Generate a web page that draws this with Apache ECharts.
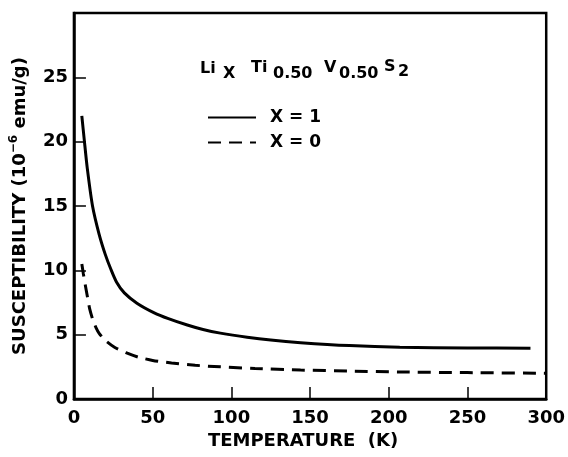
<!DOCTYPE html>
<html>
<head>
<meta charset="utf-8">
<script src="https://cdn.jsdelivr.net/npm/echarts@6/dist/echarts.min.js"></script>
<style>
html,body{margin:0;padding:0;background:#fff;}
#chart{width:568px;height:457px;}
</style>
</head>
<body>
<div id="chart"></div>
<script>
// Temperatures (K) and susceptibilities (10^-6 emu/g)
var tempX1 = [5, 6.5, 8.5, 11.8, 16, 20, 23.4, 27, 32, 40, 51, 60, 72, 82, 93, 110, 125, 144, 175, 207, 250, 290];
var chiX1  = [22, 20.2, 17.9, 15, 12.8, 11.2, 10.1, 9.1, 8.25, 7.45, 6.7, 6.25, 5.75, 5.4, 5.12, 4.8, 4.58, 4.38, 4.15, 4.02, 3.97, 3.95];
var tempX0 = [5, 6, 7, 8.5, 10, 12, 14, 16, 20, 26, 33, 41, 50, 62, 77, 93, 115, 144, 175, 207, 250, 300];
var chiX0  = [10.5, 9.72, 9.0, 7.98, 7.0, 6.15, 5.55, 5.1, 4.55, 4.0, 3.6, 3.25, 3.0, 2.8, 2.62, 2.5, 2.37, 2.25, 2.17, 2.1, 2.05, 2.0];
var seriesNames = ['X = 1', 'X = 0'];
var xTicks = [0, 50, 100, 150, 200, 250, 300];
var yTicks = [0, 5, 10, 15, 20, 25];
var xTitle = 'TEMPERATURE  (K)';
var yTitle = 'SUSCEPTIBILITY (10{sup|\u22126} emu/g)';

function pairs(xs, ys) { return xs.map(function (x, i) { return [x, ys[i]]; }); }

var FONT = 'DejaVu Sans';
var chart = echarts.init(document.getElementById('chart'));

var titleParts = [
  ['Li', 200, 69], ['X', 223, 73.5], ['Ti', 251, 68], ['0.50', 273, 74],
  ['V', 324, 68], ['0.50', 339, 74], ['S', 384, 67], ['2', 398, 72]
];

chart.setOption({
  backgroundColor: '#fff',
  animation: false,
  grid: { left: 72, right: 20, top: 13, bottom: 58, show: true, borderColor: '#000', borderWidth: 2.5 },
  xAxis: {
    type: 'value', min: 0, max: 300, interval: 50,
    name: xTitle, nameLocation: 'middle', nameGap: 31,
    nameTextStyle: { fontFamily: FONT, fontWeight: 'bold', fontSize: 18, color: '#000', padding: [0, 14, 0, 0] },
    axisLine: { show: true, lineStyle: { color: '#000', width: 2.5 } },
    axisTick: { show: true, inside: true, length: 12, lineStyle: { color: '#000', width: 1.5 } },
    axisLabel: { fontFamily: FONT, fontWeight: 'bold', fontSize: 18, color: '#000', margin: 10,
      formatter: function (v) { return xTicks.indexOf(v) >= 0 ? String(v) : ''; } },
    splitLine: { show: false }
  },
  yAxis: {
    type: 'value', min: 0, max: 30, interval: 5,
    name: yTitle, nameLocation: 'middle', nameGap: 29,
    nameTextStyle: { fontFamily: FONT, fontWeight: 'bold', fontSize: 18, color: '#000', lineHeight: 24,
      rich: { sup: { fontFamily: FONT, fontWeight: 'bold', fontSize: 12, lineHeight: 12, verticalAlign: 'top', color: '#000' } } },
    axisLine: { show: true, lineStyle: { color: '#000', width: 2.5 } },
    axisTick: { show: true, inside: true, length: 12, lineStyle: { color: '#000', width: 1.5 } },
    axisLabel: { fontFamily: FONT, fontWeight: 'bold', fontSize: 18, color: '#000', margin: 6,
      formatter: function (v) { return yTicks.indexOf(v) >= 0 ? String(v) : ''; } },
    splitLine: { show: false }
  },
  legend: {
    orient: 'vertical', left: 202, top: 104, itemWidth: 48, itemHeight: 14, itemGap: 8,
    data: seriesNames,
    itemStyle: { opacity: 0 },
    textStyle: { fontFamily: FONT, fontWeight: 'bold', fontSize: 17, color: '#000', lineHeight: 14, padding: [0, 0, 0, 9] },
    selectedMode: false
  },
  graphic: titleParts.map(function (p) {
    return { type: 'text', x: p[1], y: p[2], silent: true,
      style: { text: p[0], fill: '#000', font: 'bold 16px "' + FONT + '"', verticalAlign: 'middle', align: 'left' } };
  }),
  series: [
    { name: seriesNames[0], type: 'line', data: pairs(tempX1, chiX1), smooth: 0.25, symbol: 'none',
      lineStyle: { color: '#000', width: 3 }, itemStyle: { color: '#000' } },
    { name: seriesNames[1], type: 'line', data: pairs(tempX0, chiX0), smooth: 0.25, symbol: 'none',
      lineStyle: { color: '#000', width: 3, type: [13, 8] }, itemStyle: { color: '#000' } }
  ]
});
</script>
</body>
</html>
